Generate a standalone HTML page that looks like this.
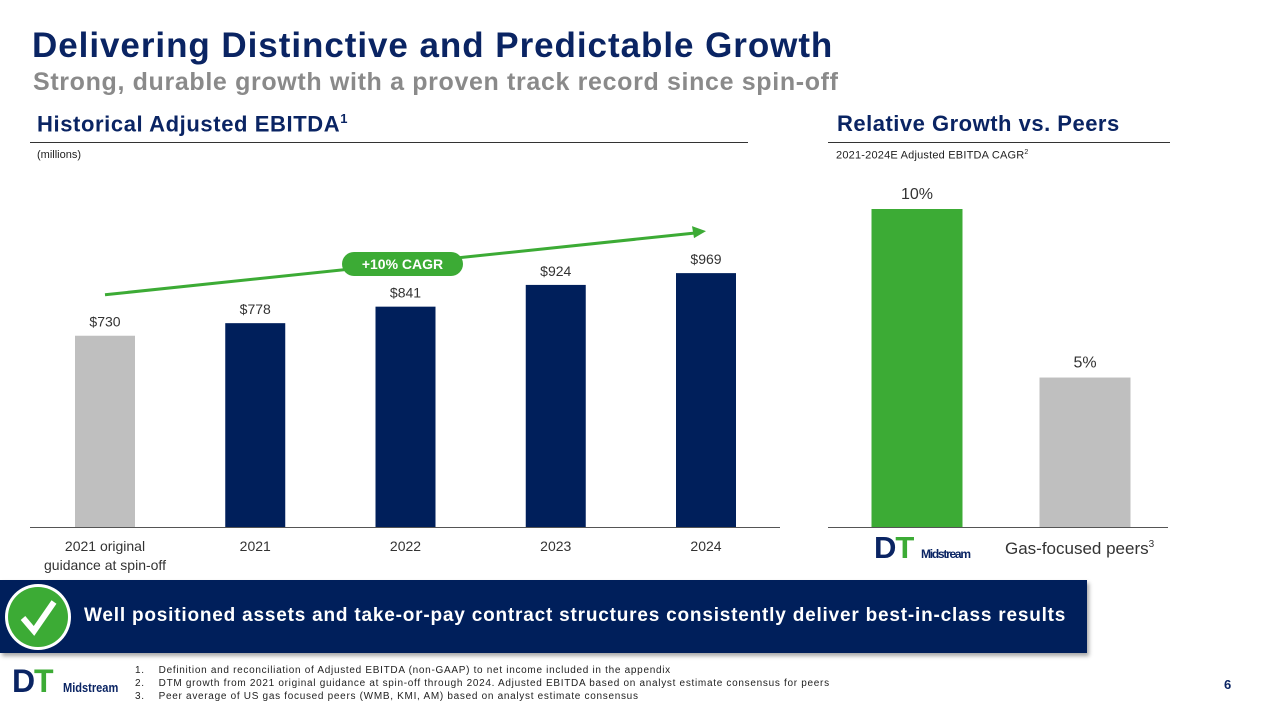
<!DOCTYPE html>
<html><head><meta charset="utf-8"><style>
body{margin:0;width:1272px;height:714px;overflow:hidden;background:#fff;font-family:"Liberation Sans","DejaVu Sans",sans-serif;position:relative}
.a{position:absolute;white-space:nowrap}
</style></head><body>
<div class="a" style="left:32px;top:26px;font-size:35px;font-weight:bold;color:#0a2463;letter-spacing:0.95px">Delivering Distinctive and Predictable Growth</div>
<div class="a" style="left:33px;top:68px;font-size:25px;font-weight:bold;color:#8a8a8a;letter-spacing:0.65px">Strong, durable growth with a proven track record since spin-off</div>
<div class="a" style="left:37px;top:111px;font-size:22px;font-weight:bold;color:#0a2463;letter-spacing:0.6px">Historical Adjusted EBITDA<sup style="font-size:13px">1</sup></div>
<div class="a" style="left:30px;top:142px;width:718px;height:1px;background:#333"></div>
<div class="a" style="left:37px;top:149px;font-size:11px;color:#222">(millions)</div>
<div class="a" style="left:837px;top:111px;font-size:22px;font-weight:bold;color:#0a2463;letter-spacing:0.5px">Relative Growth vs. Peers</div>
<div class="a" style="left:828px;top:142px;width:342px;height:1px;background:#333"></div>
<div class="a" style="left:836px;top:149px;font-size:11px;color:#222;letter-spacing:0.2px">2021-2024E Adjusted EBITDA CAGR<sup style="font-size:7px">2</sup></div>

<svg class="a" style="left:0;top:0" width="1272" height="714" id="chart"></svg>

<div class="a" style="left:0;top:580px;width:1087px;height:73px;background:#001f5b;box-shadow:2px 3px 4px rgba(0,0,0,0.35)"></div>
<svg class="a" style="left:3px;top:582px" width="72" height="72"><circle cx="35" cy="35" r="33" fill="#fff"/><circle cx="35" cy="35" r="30" fill="#3cab35"/><path d="M20 36 L31 49 L51 20" stroke="#fff" stroke-width="6" fill="none"/></svg>
<div class="a" style="left:84px;top:605px;font-size:19px;font-weight:bold;color:#fff;letter-spacing:0.8px">Well positioned assets and take-or-pay contract structures consistently deliver best-in-class results</div>

<div class="a" style="left:12px;top:670px;width:110px;height:30px">
<span style="position:absolute;left:0;top:-7px;font-size:32px;font-weight:900;color:#0a2463;letter-spacing:-2px">D</span><span style="position:absolute;left:22px;top:-7px;font-size:32px;font-weight:900;color:#3cab35">T</span><span style="position:absolute;left:51px;top:10px;font-size:13px;font-weight:bold;color:#0a2463;transform:scaleX(0.85);transform-origin:left">Midstream</span></div>
<div class="a" style="left:135px;top:664px;font-size:10px;line-height:13px;color:#222;letter-spacing:0.7px">
<div>1.&nbsp;&nbsp;&nbsp;&nbsp;Definition and reconciliation of Adjusted EBITDA (non-GAAP) to net income included in the appendix</div>
<div>2.&nbsp;&nbsp;&nbsp;&nbsp;DTM growth from 2021 original guidance at spin-off through 2024. Adjusted EBITDA based on analyst estimate consensus for peers</div>
<div>3.&nbsp;&nbsp;&nbsp;&nbsp;Peer average of US gas focused peers (WMB, KMI, AM) based on analyst estimate consensus</div></div>
<div class="a" style="left:1224px;top:677px;font-size:13px;font-weight:bold;color:#0a2463">6</div>

<script>
const leftCategories = ["2021 original|guidance at spin-off","2021","2022","2023","2024"];
const leftValues = [730,778,841,924,969];
const leftLabels = ["$730","$778","$841","$924","$969"];
const leftColors = ["#bfbfbf","#001f5b","#001f5b","#001f5b","#001f5b"];
const rightCategories = ["DT Midstream","Gas-focused peers"];
const rightValues = [10,4.7];
const rightLabels = ["10%","5%"];
const NS="http://www.w3.org/2000/svg";
const svg=document.getElementById('chart');
function mk(t,a){const e=document.createElementNS(NS,t);for(const k in a)e.setAttribute(k,a[k]);svg.appendChild(e);return e;}
const base=527;
const yL=v=>base-v*0.262;
const xL=i=>105+i*150.25;
const yR=v=>base-v*31.8;
const xR=i=>917+i*168;
let ln=mk('line',{x1:30,y1:527.5,x2:780,y2:527.5,stroke:'#555','stroke-width':1});


leftValues.forEach((v,i)=>{
 const r=mk('rect',{x:xL(i)-30,y:yL(v),width:60,height:base-yL(v),fill:leftColors[i]});
 
 
 const t=mk('text',{x:xL(i),y:yL(v)-9,'text-anchor':'middle','font-size':14,fill:'#333','font-family':'Liberation Sans, sans-serif'});
 t.textContent=leftLabels[i];
 
 
 leftCategories[i].split('|').forEach((s,j)=>{
  const c=mk('text',{x:xL(i),y:551+j*19,'text-anchor':'middle','font-size':14,fill:'#333','font-family':'Liberation Sans, sans-serif'});
  c.textContent=s;
  
  
 });
});
const a=mk('line',{x1:xL(0),y1:yL(leftValues[0])-41,x2:xL(4)-12,y2:yL(leftValues[4])-40,stroke:'#3cab35','stroke-width':3});


const ah=mk('polygon',{points:`${xL(4)},${yL(leftValues[4])-42} ${xL(4)-14},${yL(leftValues[4])-47} ${xL(4)-12},${yL(leftValues[4])-35}`,fill:'#3cab35'});


const pill=mk('rect',{x:342,y:252,width:121,height:24,rx:12,fill:'#3cab35'});


const pt=mk('text',{x:402.5,y:269,'text-anchor':'middle','font-size':14,'font-weight':'bold',fill:'#fff','font-family':'Liberation Sans, sans-serif'});
pt.textContent='+10% CAGR';


const rl=mk('line',{x1:828,y1:527.5,x2:1168,y2:527.5,stroke:'#555','stroke-width':1});


const rc=["#3cab35","#bfbfbf"];
rightValues.forEach((v,i)=>{
 const r=mk('rect',{x:xR(i)-45.5,y:yR(v),width:91,height:base-yR(v),fill:rc[i]});
 
 
 const t=mk('text',{x:xR(i),y:yR(v)-10,'text-anchor':'middle','font-size':16,fill:'#333','font-family':'Liberation Sans, sans-serif'});
 t.textContent=rightLabels[i];
 
 
});
const g=mk('text',{x:1005,y:554,'font-size':17,fill:'#333','font-family':'Liberation Sans, sans-serif'});
g.innerHTML='Gas-focused peers<tspan font-size="10" dy="-7">3</tspan>';


const d=mk('text',{x:874,y:558,'font-size':31,'font-weight':'900',fill:'#0a2463','font-family':'Liberation Sans, sans-serif','letter-spacing':'-1'});
d.innerHTML='D<tspan fill="#3cab35">T</tspan>';


const m=mk('text',{x:921,y:558,'font-size':12,'font-weight':'bold',fill:'#0a2463','font-family':'Liberation Sans, sans-serif',textLength:50});
m.textContent='Midstream';


</script>
</body></html>
